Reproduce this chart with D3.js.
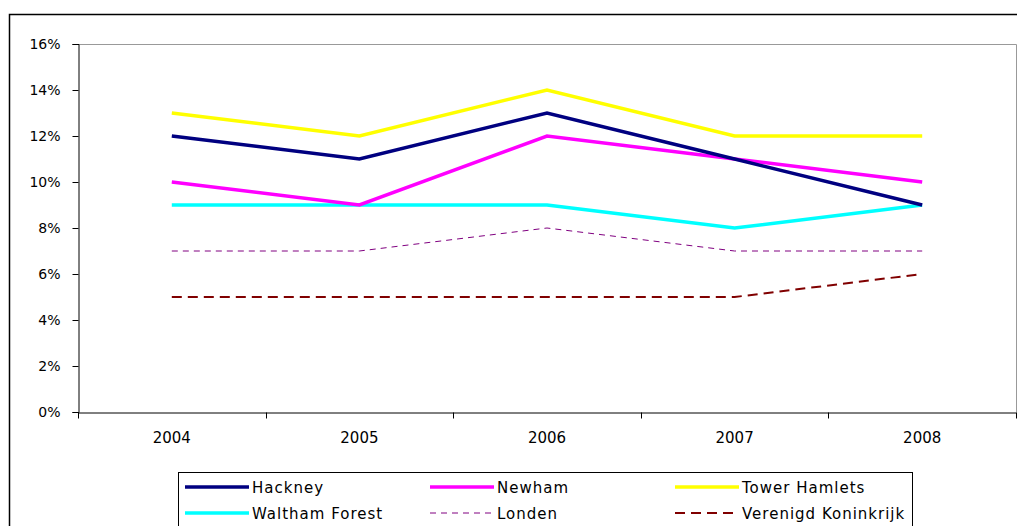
<!DOCTYPE html>
<html lang="nl">
<head>
<meta charset="UTF-8">
<title>Chart</title>
<script src="https://d3js.org/d3.v7.min.js"></script>
<style>
  body { margin: 0; background: #fff; }
  text { font-family: Verdana, "DejaVu Sans", sans-serif; fill: #000; }
</style>
</head>
<body>
<svg id="chart" width="1017" height="526"></svg>
<script>
// data
var years = ["2004", "2005", "2006", "2007", "2008"];
var hackney = [12, 11, 13, 11, 9];
var newham = [10, 9, 12, 11, 10];
var towerHamlets = [13, 12, 14, 12, 12];
var walthamForest = [9, 9, 9, 8, 9];
var londen = [7, 7, 8, 7, 7];
var verenigdKoninkrijk = [5, 5, 5, 5, 6];
var yTicks = [0, 2, 4, 6, 8, 10, 12, 14, 16];

var series = [
  { name: "Hackney", values: hackney, color: "#000080", width: 3.5, dash: null },
  { name: "Newham", values: newham, color: "#ff00ff", width: 3.5, dash: null },
  { name: "Tower Hamlets", values: towerHamlets, color: "#ffff00", width: 3.5, dash: null },
  { name: "Waltham Forest", values: walthamForest, color: "#00ffff", width: 3.5, dash: null },
  { name: "Londen", values: londen, color: "#800080", width: 1, dash: "6,5" },
  { name: "Verenigd Koninkrijk", values: verenigdKoninkrijk, color: "#800000", width: 2, dash: "10,6" }
];

var svg = d3.select("#chart");

// outer frame
svg.append("rect")
  .attr("x", 9.5).attr("y", 14.5)
  .attr("width", 1030).attr("height", 540)
  .attr("fill", "none").attr("stroke", "#000").attr("stroke-width", 1.5);

var mLeft = 78, mRight = 1016, mTop = 44, mBottom = 412;

var x = d3.scaleBand().domain(years).range([mLeft, mRight]).padding(0);
var y = d3.scaleLinear().domain([0, 16]).range([mBottom, mTop]);

// plot border top and right (grey)
svg.append("path")
  .attr("d", "M" + mLeft + "," + (mTop + 0.5) + "H" + (mRight + 0.5) + "V" + mBottom)
  .attr("fill", "none").attr("stroke", "#999").attr("stroke-width", 1);

// y axis
var yAxis = svg.append("g")
  .attr("transform", "translate(" + (mLeft + 0.5) + ",0)")
  .call(d3.axisLeft(y).tickValues(yTicks).tickSize(6).tickPadding(12)
    .tickFormat(function (d) { return d + "%"; }));
yAxis.select(".domain").attr("stroke", "#000");
yAxis.selectAll(".tick line").attr("stroke", "#000");
yAxis.selectAll("text").style("font-size", "14px");

// x axis
var xAxis = svg.append("g")
  .attr("transform", "translate(0," + (mBottom + 0.5) + ")")
  .call(d3.axisBottom(x).tickSize(0).tickPadding(20));
xAxis.select(".domain").attr("stroke", "#000");
xAxis.selectAll("text").style("font-size", "15px");
// boundary ticks between categories
xAxis.selectAll(".sep")
  .data(d3.range(years.length + 1))
  .enter().append("line")
  .attr("x1", function (i) { return Math.round(mLeft + i * x.step()) + 0.5; })
  .attr("x2", function (i) { return Math.round(mLeft + i * x.step()) + 0.5; })
  .attr("y1", 0).attr("y2", 6)
  .attr("stroke", "#000");

// lines
var line = d3.line()
  .x(function (d, i) { return x(years[i]) + x.bandwidth() / 2; })
  .y(function (d) { return y(d); });

svg.append("g").selectAll("path")
  .data(series.slice().reverse())
  .enter().append("path")
  .attr("d", function (s) { return line(s.values); })
  .attr("fill", "none")
  .attr("stroke", function (s) { return s.color; })
  .attr("stroke-width", function (s) { return s.width; })
  .attr("stroke-dasharray", function (s) { return s.dash; });

// legend
svg.append("rect")
  .attr("x", 178.5).attr("y", 472.5)
  .attr("width", 734).attr("height", 70)
  .attr("fill", "#fff").attr("stroke", "#000").attr("stroke-width", 1);

var colX = [185, 430, 675];
var rowY = [487, 513];
var leg = svg.append("g").selectAll("g")
  .data(series)
  .enter().append("g")
  .attr("transform", function (s, i) {
    return "translate(" + colX[i % 3] + "," + rowY[Math.floor(i / 3)] + ")";
  });
leg.append("line")
  .attr("x1", 0).attr("x2", 64).attr("y1", 0).attr("y2", 0)
  .attr("stroke", function (s) { return s.color; })
  .attr("stroke-width", function (s) { return s.width; })
  .attr("stroke-dasharray", function (s) { return s.dash; });
leg.append("text")
  .attr("x", 67).attr("y", 5.5)
  .style("font-size", "15px")
  .style("letter-spacing", "1px")
  .text(function (s) { return s.name; });
</script>
</body>
</html>
